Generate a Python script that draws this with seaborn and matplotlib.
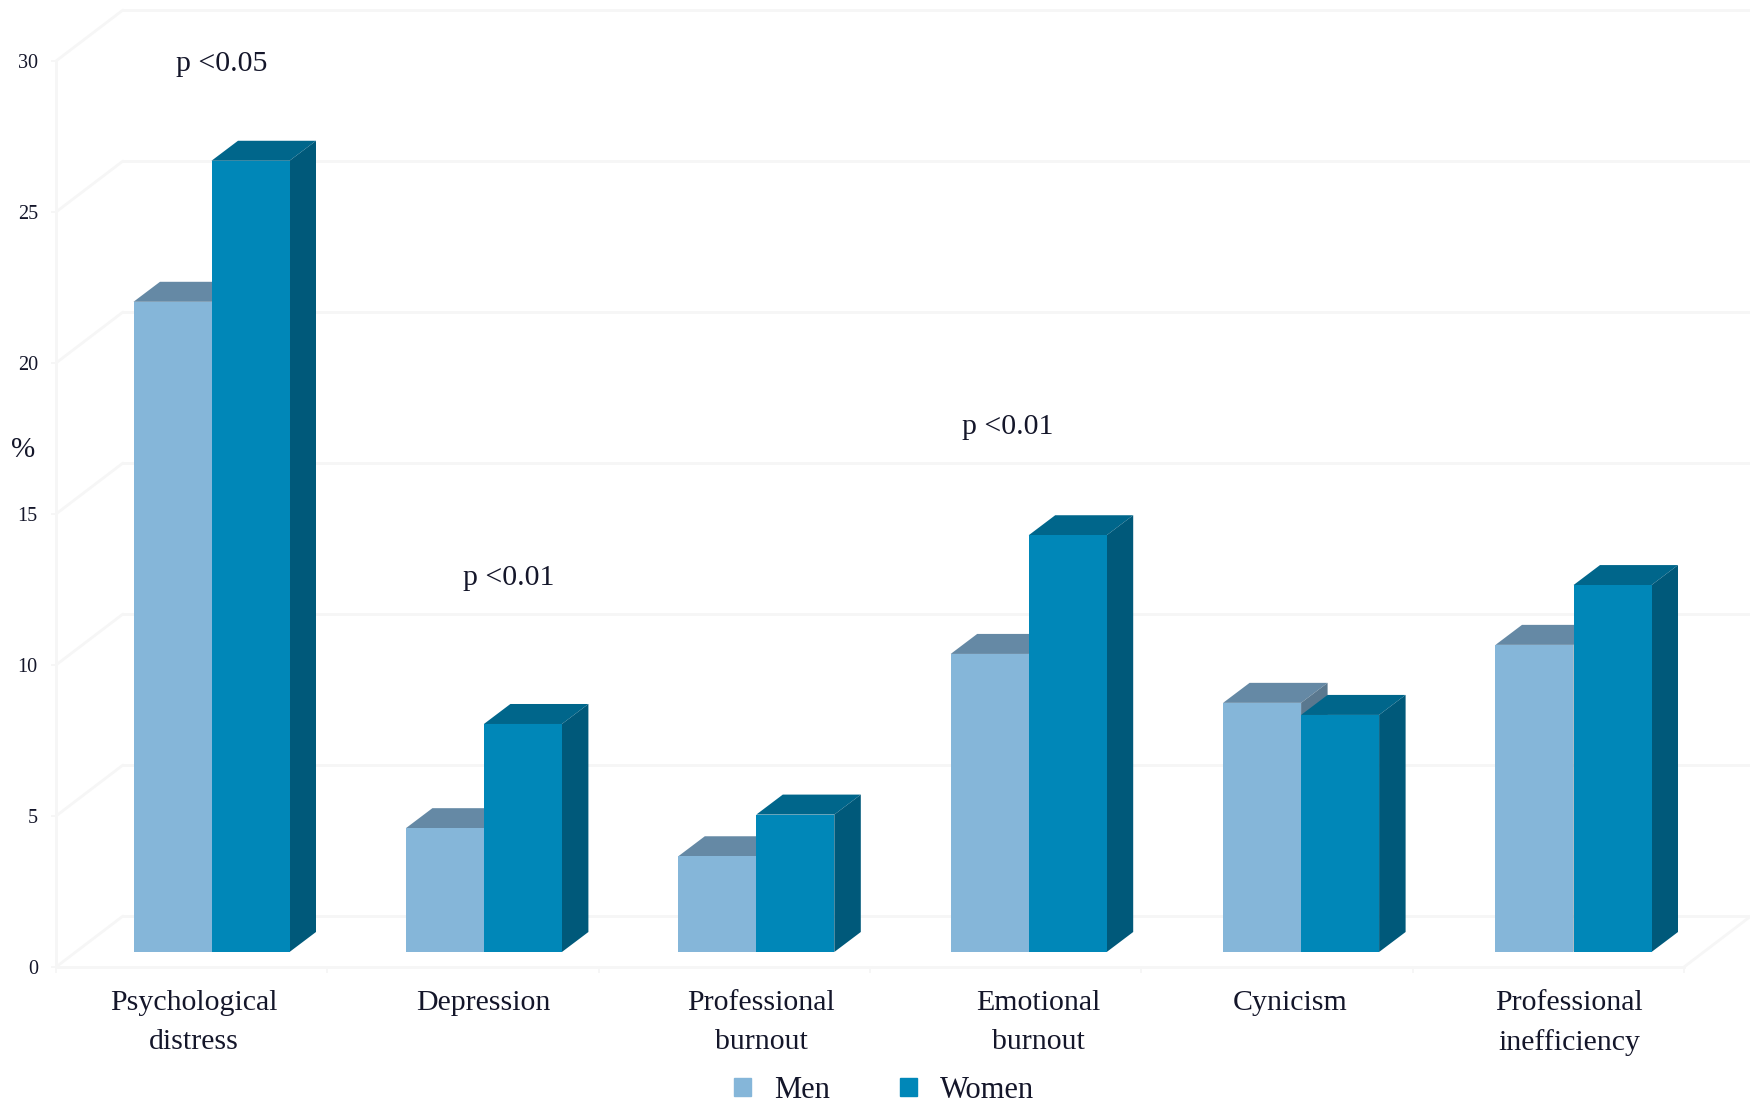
import matplotlib
matplotlib.use("Agg")
import matplotlib.pyplot as plt
from matplotlib.patches import Polygon, Patch
import pandas as pd
import seaborn as sns

categories = ["Psychological\ndistress", "Depression", "Professional\nburnout",
              "Emotional\nburnout", "Cynicism", "Professional\ninefficiency"]
men = [21.53, 4.1, 3.17, 9.87, 8.25, 10.17]
women = [26.2, 7.55, 4.55, 13.8, 7.85, 12.15]
y_ticks = [0, 5, 10, 15, 20, 25, 30]
sig_text = ["p <0.05", "p <0.01", "p <0.01"]
sig_category = [0, 1, 3]
sig_level = [29.42, 12.4, 17.38]
sig_nudge = [10, 24.5, -21]
label_nudge = [-18, -1, 5, 10, -11, -4]

FRONT_LIGHT, FRONT_DARK = "#85B6D9", "#0087B8"
TOP_LIGHT, TOP_DARK = "#6589A5", "#00668B"
SIDE_LIGHT, SIDE_DARK = "#5A788F", "#00597A"
GRID = "#F6F6F6"
INK = "#14162A"

W, H = 1750, 1105
sns.set_theme(style="white")
plt.rcParams["font.family"] = ["Liberation Serif", "DejaVu Serif"]

fig = plt.figure(figsize=(W / 100, H / 100), dpi=100, facecolor="white")

# Wall and floor of the 3D box, with the value axis
frame = fig.add_axes([56 / W, (H - 967) / H, 1628 / W, 906 / H])
frame.set_xlim(0, 6)
frame.set_ylim(0, 30)
frame.patch.set_alpha(0)
sns.despine(ax=frame)
for side in ("left", "bottom"):
    frame.spines[side].set_color(GRID)
    frame.spines[side].set_linewidth(2)
frame.set_xticks(range(7), [""] * 7)
frame.set_yticks(y_ticks, [str(v) for v in y_ticks])
frame.tick_params(axis="x", length=4, width=1.4, color=GRID, bottom=True)
frame.tick_params(axis="y", length=3.6, width=1.4, color=GRID, left=True,
                  pad=9.5, labelsize=14.5, labelcolor=INK)
frame.set_ylabel("%", rotation=0, fontsize=21, color=INK)
frame.yaxis.set_label_coords(-33 / 1628, (967 - 463) / 906)

depth_x = 67 / (1628 / 6)
depth_y = 51 / (906 / 30)
line_style = dict(color=GRID, lw=2, clip_on=False, zorder=1)
for v in y_ticks:
    frame.plot([0, depth_x], [v, v + depth_y], **line_style)
    frame.plot([depth_x, 6 + depth_x], [v + depth_y] * 2, **line_style)
frame.plot([6, 6 + depth_x], [0, depth_y], **line_style)

# Bars stand on a plane inside the box, so they get their own overlay axes
PX_PER_CAT, PX_PER_UNIT = 272.4, 30.2
ax = fig.add_axes([0, 0, 1, 1])
ax.patch.set_alpha(0)
df = pd.DataFrame({
    "category": categories * 2,
    "value": men + women,
    "sex": ["Men"] * len(men) + ["Women"] * len(women),
})
sns.barplot(data=df, x="category", y="value", hue="sex", ax=ax, width=78 * 2 / PX_PER_CAT,
            gap=0, saturation=1, legend=False, linewidth=0, dodge=True,
            palette={"Men": FRONT_LIGHT, "Women": FRONT_DARK})
ax.set_xlim(-211.5 / PX_PER_CAT, (W - 211.5) / PX_PER_CAT)
ax.set_ylim(-(H - 952) / PX_PER_UNIT, 952 / PX_PER_UNIT)
ax.axis("off")

# Top and side faces extruded from each bar's front rectangle
bar_dx = 26.5 / PX_PER_CAT
bar_dy = 20 / PX_PER_UNIT
styles = [(TOP_LIGHT, SIDE_LIGHT, 2), (TOP_DARK, SIDE_DARK, 4)]
for container, (top_c, side_c, z) in zip(ax.containers, styles):
    for bar in container:
        x0, x1 = bar.get_x(), bar.get_x() + bar.get_width()
        h = bar.get_height()
        bar.set_zorder(z + 0.5)
        ax.add_patch(Polygon([(x0, h), (x1, h), (x1 + bar_dx, h + bar_dy), (x0 + bar_dx, h + bar_dy)],
                             closed=True, facecolor=top_c, edgecolor="none", zorder=z))
        ax.add_patch(Polygon([(x1, 0), (x1 + bar_dx, bar_dy), (x1 + bar_dx, h + bar_dy), (x1, h)],
                             closed=True, facecolor=side_c, edgecolor="none", zorder=z))

# Category captions sit below the floor
for i, (name, nudge) in enumerate(zip(categories, label_nudge)):
    ax.annotate(name, xy=(i, 0), xytext=(nudge, -38), textcoords="offset pixels",
                ha="center", va="top", fontsize=21.5, color=INK, linespacing=1.64,
                annotation_clip=False)

for text, i, level, nudge in zip(sig_text, sig_category, sig_level, sig_nudge):
    ax.text(i + nudge / PX_PER_CAT, level, text, ha="center", va="center", fontsize=21.5, color=INK)

handles = [Patch(color=FRONT_LIGHT, label="Men"), Patch(color=FRONT_DARK, label="Women")]
fig.legend(handles=handles, ncol=2, frameon=False, fontsize=22, loc="lower left",
           bbox_to_anchor=(734 / W, 0.0), borderpad=0, borderaxespad=0,
           handlelength=0.55, handleheight=0.5, handletextpad=0.75, columnspacing=2.3,
           labelcolor=INK)

fig.savefig("out.png", dpi=100, facecolor="white")
